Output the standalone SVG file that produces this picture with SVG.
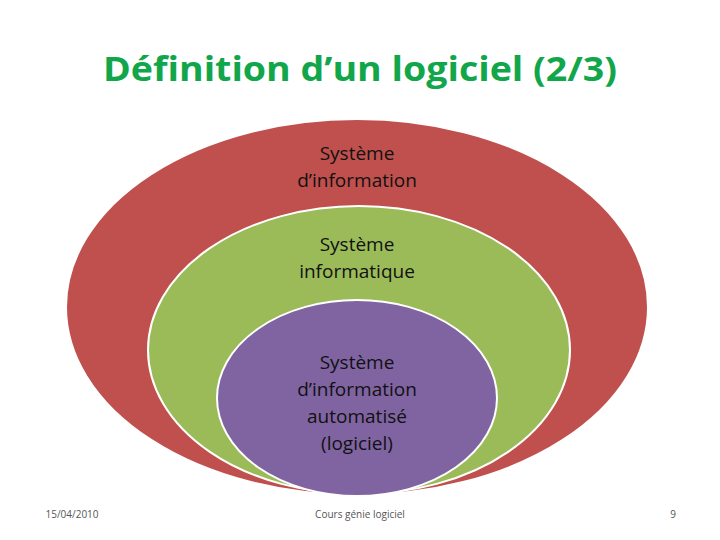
<svg xmlns="http://www.w3.org/2000/svg" width="720" height="540" viewBox="0 0 720 540">
<style>
.t{font-family:"Open Sans","Liberation Sans",sans-serif;font-size:19px;fill:#111;text-anchor:middle}
.f{font-family:"Open Sans","Liberation Sans",sans-serif;font-size:10px;fill:#555;text-anchor:middle}
.e{stroke:#fff;stroke-width:2}
</style>
<rect width="720" height="540" fill="#fff"/>
<text x="360" y="81" font-family="'Open Sans','Liberation Sans',sans-serif" font-weight="bold" font-size="34" fill="#12A64B" text-anchor="middle" textLength="514" lengthAdjust="spacingAndGlyphs">Définition d’un logiciel (2/3)</text>
<g id="n1"><ellipse class="e" cx="357" cy="307" rx="291" ry="188" fill="#C0504D"/>
<text class="t" x="357" y="160">Système</text><text class="t" x="357" y="187">d’information</text></g>
<g id="n2"><ellipse class="e" cx="359" cy="350" rx="211" ry="144" fill="#9BBB59"/>
<text class="t" x="357" y="251">Système</text><text class="t" x="357" y="278">informatique</text></g>
<g id="n3"><ellipse class="e" cx="357" cy="398" rx="140" ry="98" fill="#8064A2"/>
<text class="t" x="357" y="369">Système</text><text class="t" x="357" y="396">d’information</text><text class="t" x="357" y="423">automatisé</text><text class="t" x="357" y="450">(logiciel)</text></g>
<g id="connectors"/>
<text class="f" x="72" y="518">15/04/2010</text>
<text class="f" x="360" y="518">Cours génie logiciel</text>
<text class="f" x="673" y="518">9</text>
</svg>
